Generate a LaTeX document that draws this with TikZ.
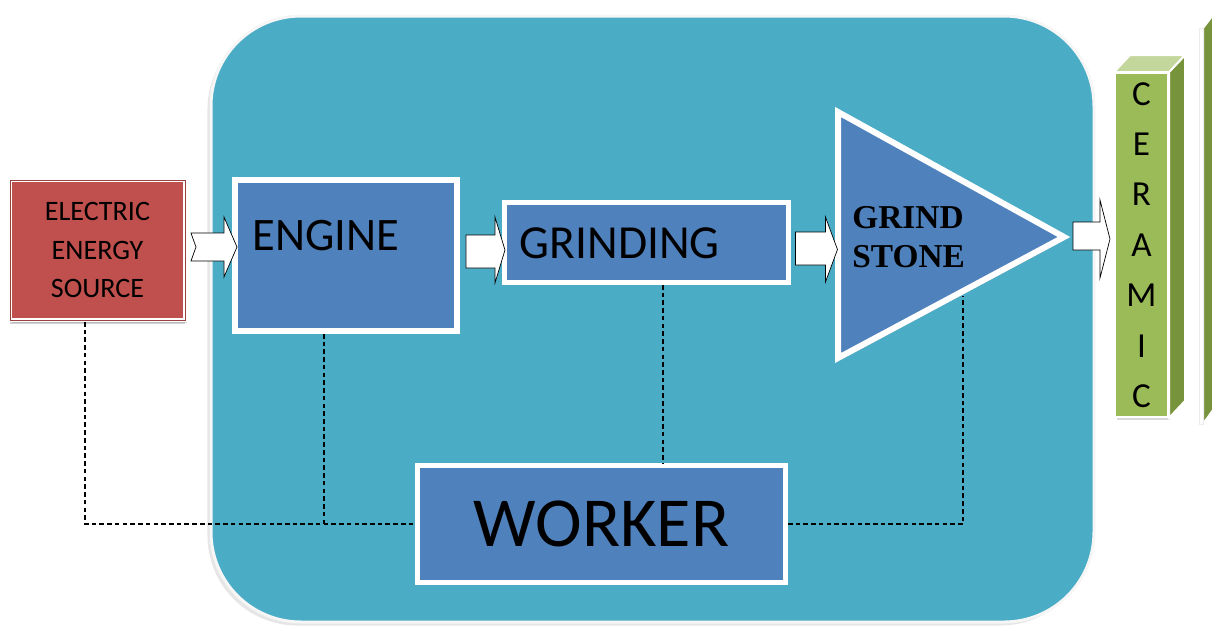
\documentclass[tikz,border=0pt]{standalone}
\usepackage{fontspec}
\usepackage{tikz}
\usetikzlibrary{shadows}
\setmainfont{Carlito}
\newfontfamily\stonefont{Liberation Serif}
\definecolor{aqua}{RGB}{75,172,198}
\definecolor{boxblue}{RGB}{79,129,189}
\definecolor{srcred}{RGB}{192,80,77}
\definecolor{cergreen}{RGB}{155,187,89}
\definecolor{cerdark}{RGB}{119,147,60}
\definecolor{cerlight}{RGB}{195,214,155}

\begin{document}
\begin{tikzpicture}[x=0.02cm, y=-0.02cm,
        box/.style={draw=white, fill=boxblue, line width=0.1cm, inner sep=0pt,
            drop shadow={shadow xshift=1pt, shadow yshift=-1.5pt, opacity=0.3}},
        barrow/.style={draw=black, fill=white, thin, line join=miter},
        link/.style={draw=black, line width=0.6pt, dash pattern=on 2.6pt off 1.8pt}]
        \useasboundingbox (0,0) rectangle (1218,630);

        % plant
        \draw[draw=white!93!gray, fill=aqua, line width=0.06cm, rounded corners=1.8cm,
            drop shadow={shadow xshift=-2pt, shadow yshift=-2pt, opacity=0.2}] (211,16) rectangle (1094,622);

        % boxes
        \node[box, fill=srcred, line width=0.08cm, minimum width=3.5cm, minimum height=2.8cm,
            align=center, font=\fontsize{16}{22}\selectfont,
            drop shadow={shadow xshift=0pt, shadow yshift=-2.5pt, opacity=0.35}] (elec) at (97.5,250) {ELECTRIC\\ENERGY\\SOURCE};
        \draw[draw=srcred!80!black, thin] ([shift={(2,2)}]elec.north west) rectangle ([shift={(-2,-2)}]elec.south east);
        \node[box, line width=0.12cm, minimum width=4.44cm, minimum height=3.02cm] (engine) at (346,255.5) {};
        \node[anchor=base west, inner sep=0pt, font=\fontsize{26.5}{30}\selectfont] (enginetext) at ([shift={(20,73)}]engine.north west) {ENGINE};
        \node[box, minimum width=5.68cm, minimum height=1.6cm] (grinding) at (646.5,242.5) {};
        \node[anchor=base west, inner sep=0pt, font=\fontsize{27}{30}\selectfont] (grindingtext) at ([shift={(17.5,15.5)}]grinding.west) {GRINDING};
        \node[box, minimum width=7.36cm, minimum height=2.34cm, font=\fontsize{40}{44}\selectfont] (worker) at (601.5,524) {WORKER};

        % grind stone
        \coordinate (stonetop) at (838,112);
        \coordinate (stonebot) at (838,358);
        \coordinate (stonetip) at (1064,237);
        \draw[draw=white, fill=boxblue, line width=0.12cm, line join=miter,
            drop shadow={shadow xshift=1pt, shadow yshift=-1.5pt, opacity=0.3}] (stonetop) -- (stonetip) -- (stonebot) -- cycle;
        \node[anchor=west, inner sep=0pt, align=left, font=\stonefont\bfseries\fontsize{19}{22}\selectfont] (stonetext) at (852,237) {GRIND\\STONE};

        % ceramic
        \draw[draw=white, fill=cerdark, line width=0.04cm] (1203,28) -- (1213,15) -- (1213,410) -- (1203,424) -- cycle;
        \draw[draw=white!85!gray, fill=white, line width=0.02cm] (1199,28) rectangle (1203,424);
        \node[draw=white, fill=cergreen, line width=0.04cm, minimum width=1.06cm, minimum height=6.88cm, inner sep=0pt,
            align=center, font=\fontsize{20}{28.7}\selectfont,
            drop shadow={shadow xshift=1pt, shadow yshift=-1.5pt, opacity=0.3}] (ceramic) at (1141.5,245) {C\\E\\R\\A\\M\\I\\C};
        \draw[draw=white, fill=cerdark, line width=0.04cm] (ceramic.north east) -- ++(16,-17) -- ([shift={(16,-17)}]ceramic.south east) -- (ceramic.south east) -- cycle;
        \draw[draw=white, fill=cerlight, line width=0.04cm] (ceramic.north west) -- ++(16,-17) -- ([shift={(16,-17)}]ceramic.north east) -- (ceramic.north east) -- cycle;

        % block arrows
        \draw[barrow] ([shift={(4,-17)}]elec.east) -- ++(33,0) -- ++(0,-16) -- ++(13,30) -- ++(-13,30) -- ++(0,-16) -- ++(-33,0) -- ++(5,-14) -- cycle;
        \draw[barrow] ([shift={(6,-20.5)}]engine.east) -- ++(29,0) -- ++(0,-18) -- ++(10,33) -- ++(-10,33) -- ++(0,-15) -- ++(-29,0) -- cycle;
        \draw[barrow] ([shift={(4.5,-10.5)}]grinding.east) -- ++(30,0) -- ++(0,-15) -- ++(12,32.5) -- ++(-12,32.5) -- ++(0,-17) -- ++(-30,0) -- cycle;
        \draw[barrow] ([shift={(9,-15)}]stonetip) -- ++(27,0) -- ++(0,-22) -- ++(10,39) -- ++(-10,39) -- ++(0,-28) -- ++(-27,0) -- cycle;

        % dashed links
        \coordinate (elecdrop) at ([shift={(-12.5,0)}]elec.south);
        \coordinate (enginedrop) at ([shift={(-22,0)}]engine.south);
        \coordinate (grindingdrop) at ([shift={(16.5,0)}]grinding.south);
        \coordinate (stonedrop) at (963,296);
        \draw[link] (elecdrop) |- (worker.west);
        \draw[link] (enginedrop) -- (enginedrop |- worker.west);
        \draw[link] (grindingdrop) -- (grindingdrop |- worker.north);
        \draw[link] (worker.east) -| (stonedrop);
    \end{tikzpicture}
\end{document}
